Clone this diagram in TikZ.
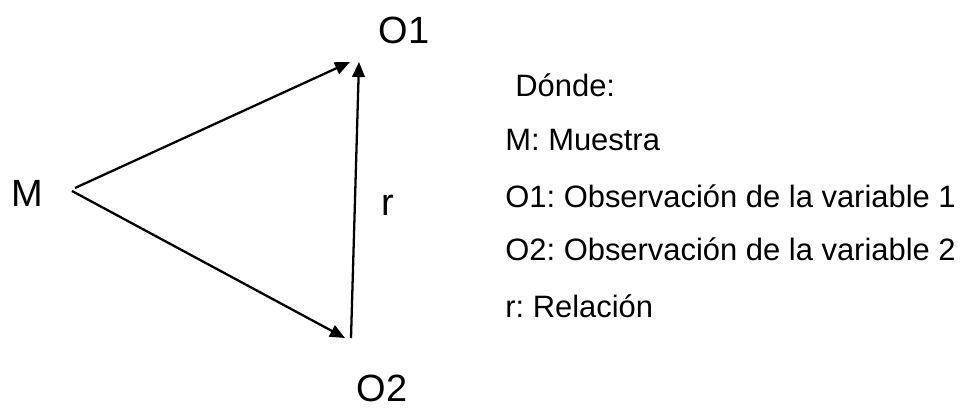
\documentclass[tikz,border=0pt]{standalone}
\usepackage{fontspec}
\setmainfont{Liberation Sans}
\usetikzlibrary{positioning,arrows.meta}
\frenchspacing

\begin{document}
\begin{tikzpicture}[x=0.02cm,y=-0.02cm,
   lbl/.style={inner sep=0pt,anchor=base,font=\fontsize{21.6}{26}\selectfont},
   leg/.style={inner sep=0pt,anchor=base west,font=\fontsize{17.6}{21}\selectfont},
   e/.style={line width=1.3pt,-{Triangle[length=0.3cm,width=0.25cm]}}]
\useasboundingbox (0,0) rectangle (971,407);
%% ---- scheme ----
\node[lbl] (M) at (27,206) {M};
\node[lbl] (O1) at (404,43) {O1};
\node[lbl] (O2) at (382,401) {O2};
\node[lbl] (r) at (388,215) {r};
\coordinate (m1) at (75,188);
\coordinate (m2) at (72,191);
\coordinate (t1) at (350,62);
\coordinate (t2) at (345,338);
\coordinate (v1) at (359,62);
\coordinate (v2) at (351,338);
\draw[e] (m1)--(t1);
\draw[e] (m2)--(t2);
\draw[e,{Triangle[length=0.3cm,width=0.25cm]}-] (v1)--(v2);
%% ---- legend ----
\node[leg] (d) at (515,96) {Dónde:};
\node[leg] (l1) at (505,150) {M: Muestra};
\node[leg] (l2) at (505,207) {O1: Observación de la variable 1};
\node[leg] (l3) at (505,260) {O2: Observación de la variable 2};
\node[leg] (l4) at (505,317) {r: Relación};
\end{tikzpicture}
\end{document}
